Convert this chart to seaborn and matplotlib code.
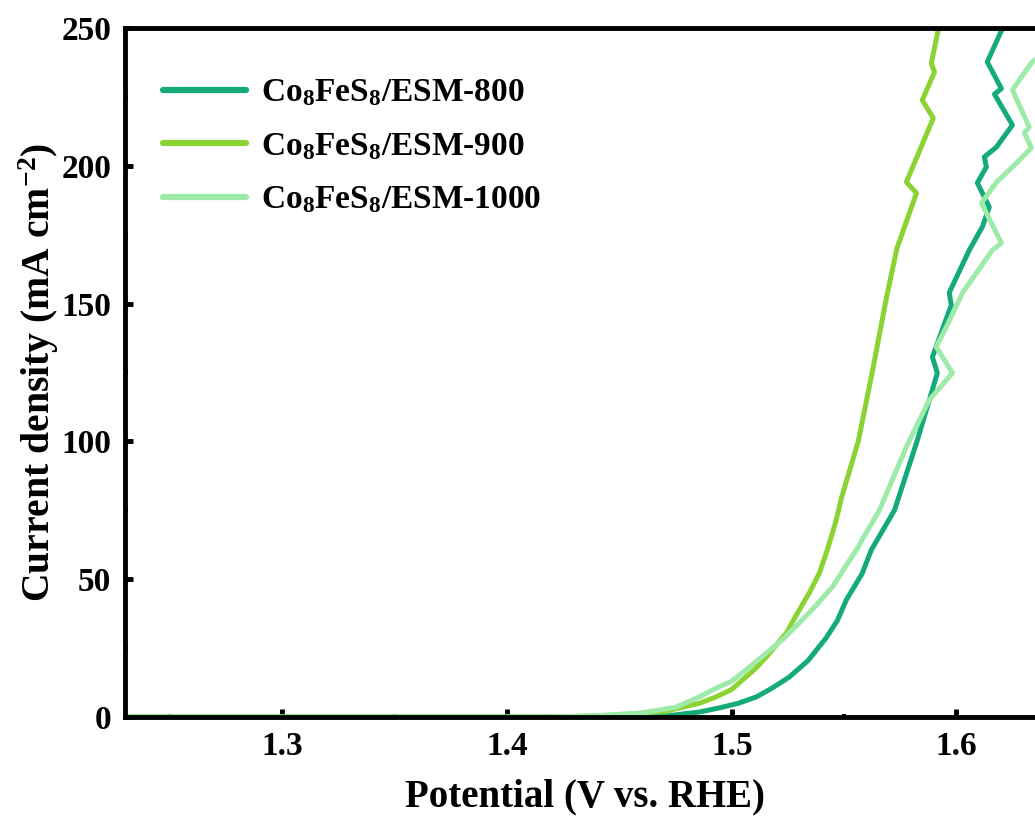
import pandas as pd
import seaborn as sns
import matplotlib.pyplot as plt

# Datos (potencial V vs RHE, densidad de corriente mA cm-2)
x_800 = [1.23, 1.45, 1.47, 1.4856, 1.4945, 1.503, 1.511, 1.518, 1.5256, 1.534, 1.542, 1.547,
         1.551, 1.558, 1.5621, 1.5724, 1.5822, 1.5915, 1.5893, 1.5977, 1.5968, 1.6057,
         1.6115, 1.6146, 1.6093, 1.6133, 1.6124, 1.6178, 1.6249, 1.6169, 1.62, 1.6137,
         1.62, 1.621]
y_800 = [0, 0, 0.3, 1.8, 3.3, 5, 7.3, 10.5, 14.5, 20.5, 28.7, 35,
         42.5, 52, 60.6, 75, 99.4, 124.8, 130.6, 149.5, 154, 169.4,
         177.8, 185, 193.8, 199.6, 203.2, 206.8, 214.8, 226, 228, 237.7,
         249, 255]

x_900 = [1.23, 1.40, 1.43, 1.45, 1.47, 1.4856, 1.4931, 1.500, 1.5047, 1.5105, 1.5154,
         1.5243, 1.530, 1.5345, 1.539, 1.5425, 1.546, 1.549, 1.5563, 1.5625, 1.5688,
         1.5735, 1.5822, 1.5777, 1.5897, 1.5848, 1.5902, 1.5888, 1.5919, 1.594]
y_900 = [0, 0, 0.2, 0.7, 2, 5, 7.3, 10, 13.4, 17.5, 21.8,
         30.5, 38.8, 45, 52.2, 60.6, 70, 80, 100, 125, 152,
         170, 190.1, 194.1, 217.3, 223.8, 234, 237.3, 249.3, 258]

x_1000 = [1.23, 1.42, 1.44, 1.46, 1.475, 1.4856, 1.4931, 1.500, 1.5047, 1.5154, 1.5225,
          1.530, 1.537, 1.5448, 1.5565, 1.5585, 1.5657, 1.5777, 1.5879, 1.5982, 1.591,
          1.5955, 1.6026, 1.616, 1.62, 1.6111, 1.6178, 1.6267, 1.6333, 1.6302, 1.6324,
          1.6249, 1.6333, 1.64]
y_1000 = [0, 0, 0.5, 1.5, 3.5, 7.3, 10.5, 13, 16, 23.2, 28,
          34.1, 40, 47.2, 62, 65, 75, 98, 115, 124.8, 134.3,
          141.5, 153.8, 169.4, 172, 186.5, 194, 201, 206.5, 212, 214,
          227.5, 237.3, 242]

etiquetas = ["Co$_8$FeS$_8$/ESM-800", "Co$_8$FeS$_8$/ESM-900", "Co$_8$FeS$_8$/ESM-1000"]
colores = ["#14AA7C", "#8BD332", "#9EEAA9"]

frames = []
for xs, ys, lab in zip([x_800, x_900, x_1000], [y_800, y_900, y_1000], etiquetas):
    frames.append(pd.DataFrame({"x": xs, "y": ys, "muestra": lab}))
df = pd.concat(frames, ignore_index=True)

sns.set_style("ticks")
plt.rcParams["font.family"] = ["Liberation Serif", "DejaVu Serif"]
plt.rcParams["font.weight"] = "bold"
plt.rcParams["mathtext.fontset"] = "custom"
plt.rcParams["mathtext.rm"] = "Liberation Serif:bold"
plt.rcParams["mathtext.it"] = "Liberation Serif:italic:bold"
plt.rcParams["mathtext.bf"] = "Liberation Serif:bold"
for k in ["text.color", "axes.labelcolor", "xtick.color", "ytick.color", "axes.edgecolor"]:
    plt.rcParams[k] = "black"

fig = plt.figure(figsize=(10.35, 8.26), dpi=100)
# el eje derecho queda fuera de la imagen, como en el original
ax = fig.add_axes([125 / 1035, 109 / 826, 920 / 1035, 689 / 826])

sns.lineplot(data=df, x="x", y="y", hue="muestra", palette=colores, sort=False,
             estimator=None, lw=3.6, ax=ax, solid_capstyle="round")

ax.set_xlim(1.23, 1.6394)
ax.set_ylim(0, 250)
ax.set_xticks([1.3, 1.4, 1.5, 1.6])
ax.set_xticks([1.25, 1.35, 1.45, 1.55], minor=True)
ax.set_yticks([0, 50, 100, 150, 200, 250])
ax.set_yticks([25, 75, 125, 175, 225], minor=True)
ax.tick_params(which="major", direction="in", length=6, width=3.5, labelsize=24, pad=10)
ax.tick_params(which="minor", direction="in", length=2, width=3)
for s in ax.spines.values():
    s.set_linewidth(3.5)

ax.set_xlabel("Potential (V vs. RHE)", fontsize=28, fontweight="bold", labelpad=12)
ax.set_ylabel("Current density (mA cm$^{-2}$)", fontsize=28.5, fontweight="bold", labelpad=0)

leg = ax.legend(loc="upper left", bbox_to_anchor=(0.041, 0.928), frameon=False,
                fontsize=24, handlelength=2.5, handletextpad=0.45, labelspacing=0.67,
                borderpad=0, borderaxespad=0, title=None)
for h in leg.get_lines():
    h.set_linewidth(4.5)
    h.set_solid_capstyle("round")

fig.savefig("out.png", dpi=100)
